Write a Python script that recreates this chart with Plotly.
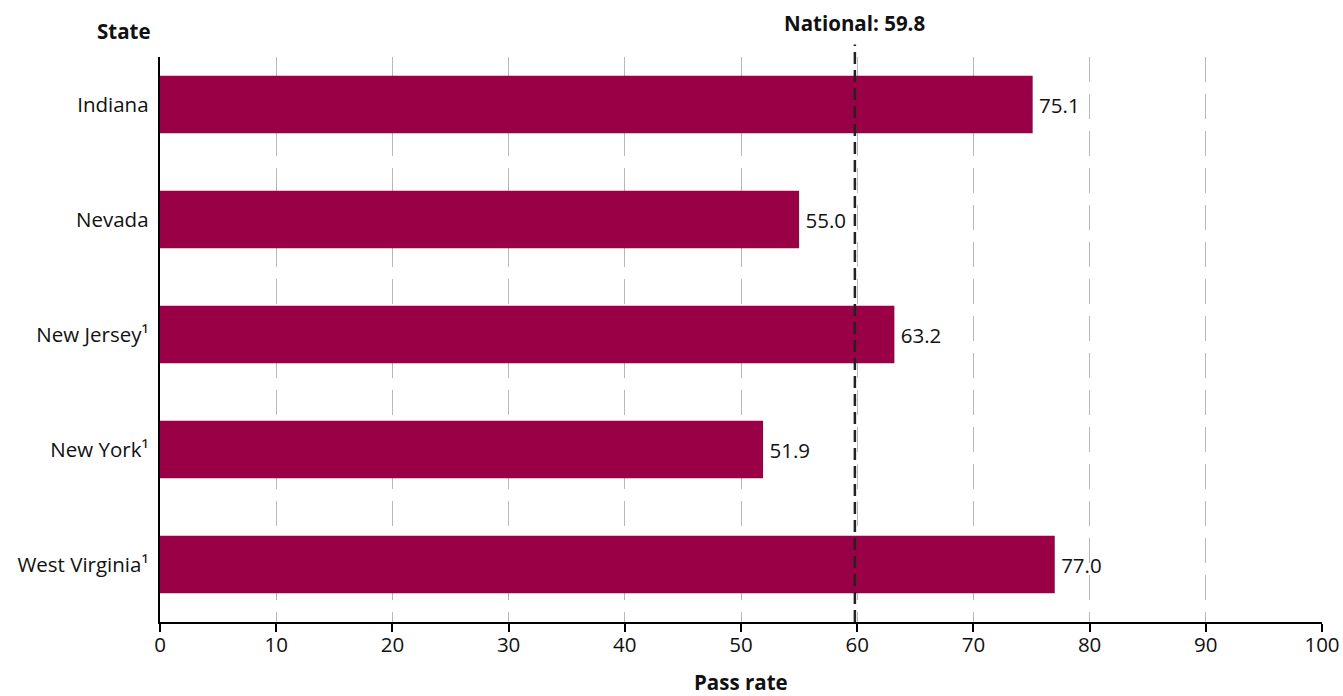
import plotly.graph_objects as go

states = ["Indiana", "Nevada", "New Jersey¹", "New York¹", "West Virginia¹"]
pass_rate = [75.1, 55.0, 63.2, 51.9, 77.0]
national = 59.8
x_ticks = [0, 10, 20, 30, 40, 50, 60, 70, 80, 90, 100]

FONT = "Open Sans"
FS = 20.5
bar_color = "#990045"

fig = go.Figure()
fig.add_trace(go.Bar(
    y=states, x=pass_rate, orientation="h",
    marker=dict(color=bar_color, line=dict(width=0)),
    text=["\u2009" + f"{v:.1f}" for v in pass_rate], textposition="outside",
    textfont=dict(family=FONT, size=FS, color="#111"),
    cliponaxis=False, width=0.5, hoverinfo="skip",
))

fig.add_shape(type="line", xref="x", yref="paper", x0=national, x1=national,
              y0=0, y1=1.022, line=dict(color="#222", width=2.5, dash="12px,6px"))

fig.add_annotation(xref="x", yref="paper", x=national, y=1.022, yanchor="bottom",
                   yshift=6, text="<b>National: 59.8</b>", showarrow=False,
                   font=dict(family=FONT, size=FS, color="#111"))
fig.add_annotation(xref="paper", yref="paper", x=-0.006, y=1.0, xanchor="right",
                   yanchor="bottom", yshift=10, text="<b>State</b>", showarrow=False,
                   font=dict(family=FONT, size=FS, color="#111"))
fig.add_annotation(xref="paper", yref="paper", x=0.5, y=0, yanchor="top",
                   yshift=-44, text="<b>Pass rate</b>", showarrow=False,
                   font=dict(family=FONT, size=FS, color="#111"))

fig.update_layout(
    width=1343, height=696,
    margin=dict(l=160, r=21, t=57, b=74),
    plot_bgcolor="white", paper_bgcolor="white",
    showlegend=False,
    font=dict(family=FONT, size=FS, color="#111"),
    xaxis=dict(range=[0, 100], tickvals=x_ticks, showgrid=True,
               gridcolor="#b4b8c0", gridwidth=1.2, griddash="25px,12px",
               zeroline=False, showline=True, linecolor="black", linewidth=2,
               ticks="outside", ticklen=8, tickwidth=2, tickcolor="black",
               ticklabelstandoff=-5,
               tickfont=dict(family=FONT, size=FS, color="#111"),
               automargin=False, fixedrange=True),
    yaxis=dict(categoryorder="array", categoryarray=states,
               range=[4.5, -0.413], showgrid=False, zeroline=False,
               showline=True, linecolor="black", linewidth=2,
               ticks="", ticksuffix=" ",
               tickfont=dict(family=FONT, size=FS, color="#111"),
               automargin=False, fixedrange=True),
)

fig.write_html("out.html", config={"displayModeBar": False})

with open("out.html", "r", encoding="utf-8") as f:
    html = f.read()
html = html.replace("<head>", "<head><style>html,body{margin:0;padding:0;overflow:hidden;}</style>", 1)
with open("out.html", "w", encoding="utf-8") as f:
    f.write(html)
